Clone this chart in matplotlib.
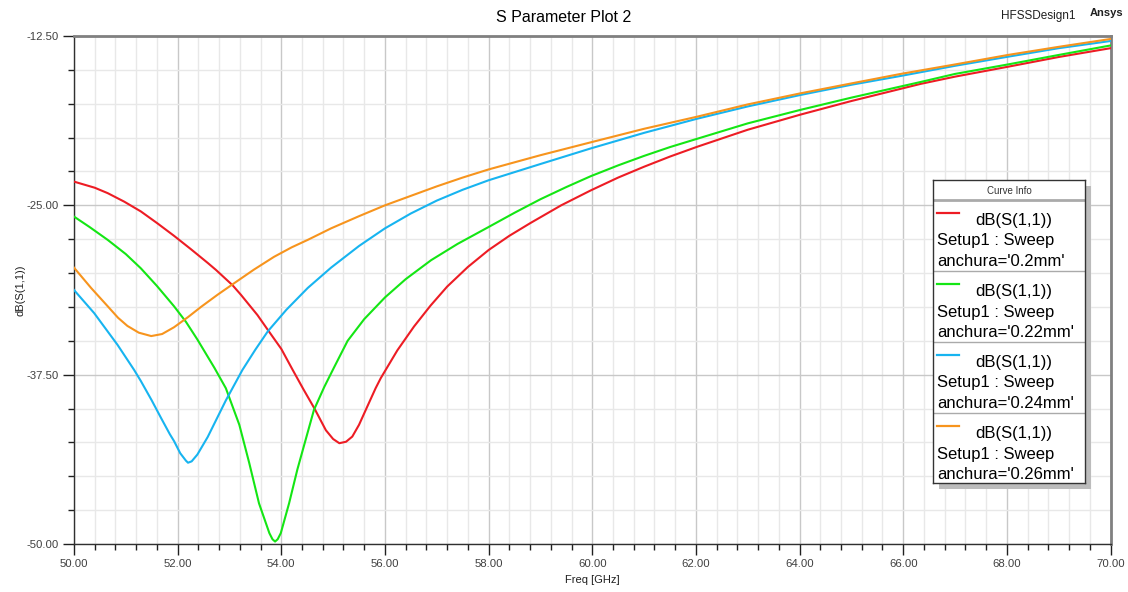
import numpy as np
import matplotlib.pyplot as plt
from matplotlib.patches import Rectangle
from matplotlib.ticker import MultipleLocator, FormatStrFormatter

plt.rcParams['font.family'] = ['Liberation Sans', 'DejaVu Sans']

# values (GHz, dB)
freq_02 = [50.0, 50.4, 50.65, 50.97, 51.29, 51.61, 51.93, 52.26, 52.58, 52.74, 53.06, 53.22, 53.54,
           53.75, 54.0, 54.22, 54.43, 54.64, 54.86, 55.0, 55.12, 55.25, 55.37, 55.5, 55.63, 55.82,
           55.92, 56.24, 56.56, 56.88, 57.2, 57.6, 58.0, 58.4, 58.81, 59.4, 59.97, 60.5, 61.0, 61.5,
           62.03, 63.0, 64.02, 65.0, 66.33, 67.0, 68.02, 69.0, 70.0]
s11_02 = [-23.25, -23.7, -24.1, -24.73, -25.45, -26.33, -27.25, -28.25, -29.25, -29.77, -30.9, -31.6, -33.1,
          -34.25, -35.6, -37.15, -38.6, -40.0, -41.6, -42.25, -42.56, -42.45, -42.07, -41.2, -40.1, -38.5,
          -37.75, -35.7, -33.95, -32.4, -31.0, -29.55, -28.3, -27.25, -26.3, -25.0, -23.9, -22.95, -22.15, -21.4,
          -20.67, -19.42, -18.3, -17.3, -16.04, -15.5, -14.77, -14.05, -13.4]

freq_022 = [50.0, 50.3, 50.65, 51.0, 51.29, 51.6, 51.93, 52.16, 52.38, 52.71, 52.93, 53.19, 53.38, 53.57,
            53.77, 53.83, 53.88, 53.93, 53.99, 54.15, 54.31, 54.47, 54.63, 54.83, 55.02, 55.28, 55.6,
            56.0, 56.4, 56.89, 57.4, 58.0, 58.5, 59.0, 59.5, 59.97, 60.5, 61.0, 61.5, 62.03, 63.0,
            64.02, 65.0, 66.33, 67.0, 68.02, 69.0, 70.0]
s11_022 = [-25.83, -26.6, -27.55, -28.6, -29.65, -30.95, -32.45, -33.6, -34.9, -37.0, -38.5, -41.2, -44.0,
           -47.0, -49.2, -49.65, -49.82, -49.65, -49.2, -47.0, -44.5, -42.3, -40.1, -38.4, -36.95, -35.0,
           -33.4, -31.8, -30.45, -29.05, -27.85, -26.6, -25.55, -24.55, -23.65, -22.85, -22.05, -21.35, -20.7,
           -20.08, -18.95, -17.95, -17.05, -15.9, -15.3, -14.6, -13.9, -13.2]

freq_024 = [50.0, 50.39, 50.84, 51.16, 51.29, 51.5, 51.68, 51.85, 51.93, 52.05, 52.16, 52.2, 52.27,
            52.38, 52.58, 52.93, 53.25, 53.5, 53.74, 54.1, 54.51, 54.96, 55.5, 56.0, 56.5, 57.0, 57.5,
            58.0, 59.0, 59.97, 61.0, 62.03, 63.0, 64.02, 65.0, 65.95, 67.0, 68.02, 69.0, 70.0]
s11_024 = [-31.25, -32.96, -35.3, -37.15, -37.97, -39.4, -40.7, -41.9, -42.4, -43.3, -43.85, -44.0, -43.9,
           -43.4, -42.1, -39.4, -37.15, -35.65, -34.3, -32.7, -31.1, -29.6, -28.0, -26.7, -25.6, -24.65, -23.85,
           -23.15, -21.95, -20.8, -19.65, -18.6, -17.7, -16.85, -16.1, -15.45, -14.7, -14.03, -13.4, -12.87]

freq_026 = [50.0, 50.33, 50.65, 50.85, 51.03, 51.25, 51.49, 51.7, 51.93, 52.2, 52.45, 52.77, 53.09,
            53.47, 53.86, 54.2, 54.51, 54.96, 55.5, 56.0, 56.5, 57.0, 57.5, 58.0, 59.0, 59.97, 61.0,
            62.03, 63.0, 64.02, 65.0, 65.95, 67.0, 68.02, 69.0, 70.0]
s11_026 = [-29.6, -31.1, -32.45, -33.3, -33.9, -34.4, -34.65, -34.5, -34.0, -33.25, -32.5, -31.6, -30.75,
           -29.75, -28.8, -28.1, -27.55, -26.7, -25.8, -25.0, -24.3, -23.6, -22.95, -22.35, -21.3, -20.35,
           -19.35, -18.45, -17.55, -16.73, -16.0, -15.3, -14.6, -13.9, -13.3, -12.72]

widths = ['0.2mm', '0.22mm', '0.24mm', '0.26mm']
colors = ['#ed1c24', '#14e614', '#17b4f0', '#f7941d']
series = [(freq_02, s11_02), (freq_022, s11_022), (freq_024, s11_024), (freq_026, s11_026)]

W, H = 1128, 592
fig = plt.figure(figsize=(W / 100, H / 100), dpi=100, facecolor='w')
ax = fig.add_axes([74 / W, 1 - 544 / H, (1110.5 - 74) / W, (544 - 36) / H])

for (f, s), c in zip(series, colors):
    ax.plot(f, s, color=c, lw=1.5, zorder=3, solid_joinstyle='round')

ax.set_xlim(50, 70)
ax.set_ylim(-50, -12.5)
ax.xaxis.set_major_locator(MultipleLocator(2))
ax.xaxis.set_minor_locator(MultipleLocator(0.4))
ax.yaxis.set_major_locator(MultipleLocator(12.5))
ax.yaxis.set_minor_locator(MultipleLocator(2.5))
ax.xaxis.set_major_formatter(FormatStrFormatter('%.2f'))
ax.yaxis.set_major_formatter(FormatStrFormatter('%.2f'))
ax.tick_params(which='major', direction='out', length=8, width=1, color='#202020',
               labelsize=8.2, labelcolor='#404040', pad=3)
ax.tick_params(which='minor', direction='out', length=4, width=1, color='#202020')
ax.set_axisbelow(True)
ax.grid(which='minor', color='#e8e8e8', lw=1)
ax.grid(which='major', color='#c8c8c8', lw=1)
for side in ['left', 'bottom']:
    ax.spines[side].set_color('#303030')
    ax.spines[side].set_linewidth(1)
for side in ['top', 'right']:
    ax.spines[side].set_color('#808080')
    ax.spines[side].set_linewidth(2)

fig.text(0.5, 1 - 17 / H, 'S Parameter Plot 2', ha='center', va='center', fontsize=11.5)
fig.text(1038 / W, 1 - 16 / H, 'HFSSDesign1', ha='center', va='center', fontsize=8.5, color='#202020')
fig.text(1107 / W, 1 - 13 / H, 'Ansys', ha='center', va='center', fontsize=8, fontweight='bold',
         color='#202020')
fig.text(592 / W, 1 - 580 / H, 'Freq [GHz]', ha='center', va='center', fontsize=8, color='#202020')
fig.text(20 / W, 1 - 290 / H, 'dB(S(1,1))', ha='center', va='center', rotation=90, fontsize=8,
         color='#202020')

# legend box "Curve Info"
lx, ly, lw, lh = 933, 180, 152, 303
shadow = Rectangle(((lx + 6) / W, 1 - (ly + lh + 6) / H), lw / W, lh / H, transform=fig.transFigure,
                   facecolor='#bcbcbc', edgecolor='none', zorder=4)
fig.add_artist(shadow)
leg = fig.add_axes([lx / W, 1 - (ly + lh) / H, lw / W, lh / H], zorder=5)
leg.set_xlim(0, lw)
leg.set_ylim(lh, 0)
leg.set_xticks([])
leg.set_yticks([])
for sp in leg.spines.values():
    sp.set_color('#333333')
    sp.set_linewidth(1)
leg.text(lw / 2, 11, 'Curve Info', ha='center', va='center', fontsize=7, color='#333333')
leg.plot([0, lw], [19.5, 19.5], color='#aaaaaa', lw=2)
for i, (w, c) in enumerate(zip(widths, colors)):
    top = 20 + i * 71
    if i > 0:
        leg.plot([0, lw], [top, top], color='#aaaaaa', lw=1)
    leg.plot([4, 26], [top + 13, top + 13], color=c, lw=1.6)
    leg.text(42, top + 20.5, 'dB(S(1,1))', ha='left', va='center', fontsize=12)
    leg.text(4, top + 41, 'Setup1 : Sweep', ha='left', va='center', fontsize=12)
    leg.text(4, top + 61.5, "anchura='%s'" % w, ha='left', va='center', fontsize=12)

fig.savefig('out.png', dpi=100, facecolor='w')
